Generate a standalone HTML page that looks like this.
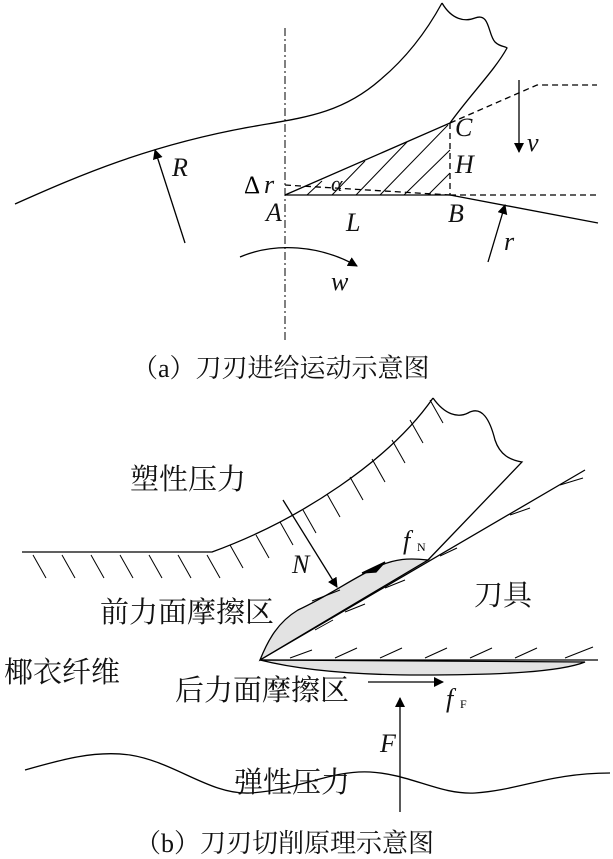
<!DOCTYPE html>
<html><head><meta charset="utf-8"><style>
html,body{margin:0;padding:0;background:#fff;}
svg{display:block;}
.cn{font-family:"Liberation Serif","Noto Serif CJK SC","Noto Sans CJK SC",serif;font-size:29px;fill:#111;}
.cap{font-family:"Liberation Serif","Noto Serif CJK SC","Noto Sans CJK SC",serif;font-size:26px;fill:#111;}
.it{font-family:"Liberation Serif",serif;font-style:italic;font-size:26px;fill:#111;}
</style></head><body>
<svg width="613" height="859" viewBox="0 0 613 859" xmlns="http://www.w3.org/2000/svg">
<defs>
<marker id="ah" markerWidth="10" markerHeight="10" refX="9" refY="5" orient="auto" markerUnits="userSpaceOnUse">
<path d="M0,0 L10,5 L0,10 z" fill="#000"/></marker>
</defs>
<g fill="none" stroke="#000" stroke-width="1.3">
<!-- part a -->
<line x1="285" y1="28" x2="285" y2="340" stroke-dasharray="8,3,2,3" stroke-width="1"/>
<path d="M15,204 C80,175 150,145 250,127 C300,118 340,115 380,80 C410,55 430,25 442,3"/>
<path d="M442,3 C452,20 465,22 475,18 C490,12 488,35 495,42 C500,47 505,46 507,48 C495,70 470,95 450,123"/>
<path d="M450,123 L537,85 L597,85" stroke-dasharray="6,4"/>
<line x1="519" y1="80" x2="519" y2="152" marker-end="url(#ah)"/>
<line x1="285" y1="195" x2="450" y2="123"/>
<line x1="285" y1="195" x2="450" y2="195"/>
<line x1="450" y1="123" x2="450" y2="195" stroke-dasharray="6,4"/>
<line x1="450" y1="195" x2="597" y2="195" stroke-dasharray="6,4"/>
<line x1="285" y1="185" x2="450" y2="195" stroke-dasharray="6,4"/>
<line x1="450" y1="195" x2="598" y2="223"/>
<g stroke-width="1">
<line x1="307" y1="195" x2="322" y2="181"/>
<line x1="332" y1="195" x2="365" y2="161"/>
<line x1="356" y1="195" x2="407" y2="142"/>
<line x1="380" y1="195" x2="448" y2="125"/>
<line x1="404" y1="195" x2="450" y2="150"/>
<line x1="428" y1="195" x2="450" y2="173"/>
</g>
<line x1="488" y1="262" x2="505" y2="205" marker-end="url(#ah)"/>
<line x1="185" y1="243" x2="155" y2="150" marker-end="url(#ah)"/>
<path d="M240,257 C275,242 320,245 357,266" marker-end="url(#ah)"/>

<!-- part b -->
<path d="M22,552 L212,552 C300,520 390,460 433,398"/>
<g stroke-width="1">
<line x1="33" y1="555" x2="46" y2="578"/>
<line x1="62" y1="555" x2="75" y2="578"/>
<line x1="91" y1="555" x2="104" y2="578"/>
<line x1="120" y1="555" x2="133" y2="578"/>
<line x1="149" y1="555" x2="162" y2="578"/>
<line x1="178" y1="555" x2="191" y2="578"/>
<line x1="207" y1="555" x2="220" y2="578"/>
<line x1="230" y1="545" x2="243" y2="568"/>
<line x1="256" y1="535" x2="269" y2="558"/>
<line x1="280" y1="522" x2="293" y2="545"/>
<line x1="303" y1="510" x2="316" y2="533"/>
<line x1="327" y1="494" x2="340" y2="517"/>
<line x1="350" y1="477" x2="363" y2="500"/>
<line x1="372" y1="459" x2="385" y2="482"/>
<line x1="392" y1="440" x2="405" y2="463"/>
<line x1="410" y1="420" x2="423" y2="443"/>
<line x1="430" y1="400" x2="443" y2="423"/>
</g>
<path d="M433,398 C445,415 458,418 468,413 C482,405 490,420 495,440 C500,455 510,460 522,462 L428,560"/>
<path d="M260,660 C268,640 278,622 298,610 C330,595 350,580 375,568 C395,558 410,558 428,560 L260,660 z" fill="#e3e3e3"/>
<line x1="260" y1="660" x2="585" y2="470"/>
<g stroke-width="1">
<line x1="560" y1="485" x2="583" y2="478"/>
<line x1="510" y1="515" x2="530" y2="508"/>
<line x1="440" y1="556" x2="457" y2="548"/>
<line x1="385" y1="588" x2="405" y2="580"/>
<line x1="345" y1="612" x2="365" y2="604"/>
<line x1="315" y1="630" x2="333" y2="620"/>
<line x1="312" y1="601" x2="340" y2="590"/>
</g>
<line x1="283" y1="500" x2="337" y2="587" marker-end="url(#ah)"/>
<path d="M362,573 L385,562 L376,572 z" fill="#000"/>
<path d="M260,660 C300,670 350,675 420,675 C500,675 560,672 585,662 z" fill="#e3e3e3"/>
<line x1="260" y1="660" x2="598" y2="660"/>
<g stroke-width="1">
<line x1="290" y1="658" x2="312" y2="650"/>
<line x1="335" y1="658" x2="357" y2="648"/>
<line x1="380" y1="658" x2="402" y2="648"/>
<line x1="425" y1="658" x2="447" y2="648"/>
<line x1="470" y1="658" x2="492" y2="648"/>
<line x1="515" y1="658" x2="537" y2="648"/>
<line x1="565" y1="658" x2="593" y2="647"/>
</g>
<line x1="368" y1="682" x2="443" y2="682" marker-end="url(#ah)"/>
<line x1="400" y1="812" x2="400" y2="698" marker-end="url(#ah)"/>
<path d="M25,770 C60,760 95,750 130,755 C175,762 210,795 250,793 C300,790 330,770 370,772 C410,774 440,795 475,793 C520,790 550,773 610,773"/>
</g>
<!-- labels a -->
<text class="it" x="172" y="176">R</text>
<text x="244" y="193" style="font-family:'Liberation Serif',serif;font-size:25px">Δ</text>
<text class="it" x="264" y="193">r</text>
<text class="it" x="331" y="191" style="font-size:22px">α</text>
<text class="it" x="266" y="221">A</text>
<text class="it" x="346" y="231">L</text>
<text class="it" x="448" y="222">B</text>
<text class="it" x="455" y="136">C</text>
<text class="it" x="455" y="173">H</text>
<text class="it" x="527" y="151">v</text>
<text class="it" x="504" y="250">r</text>
<text class="it" x="331" y="290">w</text>
<text class="cap" x="132" y="377">（a）刀刃进给运动示意图</text>
<!-- labels b -->
<text class="cn" x="130" y="489">塑性压力</text>
<text class="it" x="292" y="573">N</text>
<text class="it" x="403" y="549">f</text>
<text x="417" y="551" style="font-family:'Liberation Serif',serif;font-size:12px">N</text>
<text class="cn" x="474" y="605">刀具</text>
<text class="cn" x="100" y="622">前力面摩擦区</text>
<text class="cn" x="4" y="682">椰衣纤维</text>
<text class="cn" x="175" y="700">后力面摩擦区</text>
<text class="it" x="446" y="707">f</text>
<text x="460" y="708" style="font-family:'Liberation Serif',serif;font-size:12px">F</text>
<text class="it" x="380" y="752">F</text>
<text class="cn" x="234" y="792">弹性压力</text>
<text class="cap" x="135" y="852">（b）刀刃切削原理示意图</text>
</svg>
</body></html>
